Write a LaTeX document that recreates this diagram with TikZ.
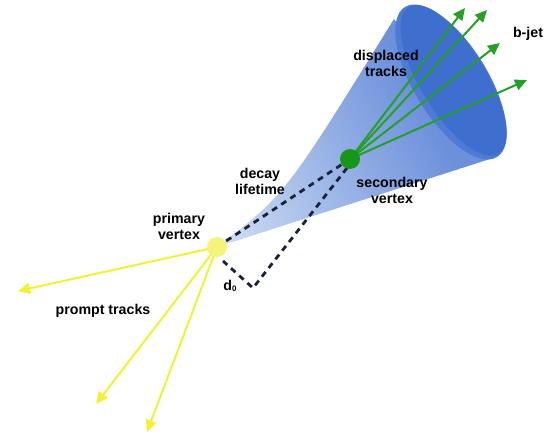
\documentclass[tikz,border=0pt]{standalone}
\usepackage{fontspec}
\setsansfont{Liberation Sans}
\usetikzlibrary{arrows.meta}
\usetikzlibrary{calc}

\definecolor{conelight}{RGB}{214,227,246}
\definecolor{conedark}{RGB}{108,144,219}
\definecolor{capblue}{RGB}{62,111,206}
\definecolor{caprim}{RGB}{78,124,212}
\definecolor{trackgreen}{RGB}{36,160,36}
\definecolor{vtxgreen}{RGB}{24,150,24}
\definecolor{trackyellow}{RGB}{242,242,50}
\definecolor{vtxyellow}{RGB}{244,244,122}
\definecolor{dashnavy}{RGB}{26,34,58}

\tikzset{
  lbl/.style={font=\sffamily\bfseries\fontsize{14.2}{16}\selectfont, align=center, text=black, inner sep=0pt},
  vtx/.style={circle, minimum size=20pt, inner sep=0pt},
  lifeline/.style={dashnavy, line width=2.8pt, dash pattern=on 6pt off 5pt},
  track/.style={line width=2pt, -{Triangle[length=12pt,width=11pt]}},
}

\begin{document}
\begin{tikzpicture}[x=1pt, y=-1pt]
    \useasboundingbox (0,0) rectangle (545,435);

    % draw cone and its cap
    \coordinate (apex) at (217,247);
    \coordinate (capc) at (451,82);
    \begin{scope}
      \clip (apex) .. controls (285,195) .. (394,19) -- (493,158) -- cycle;
      \begin{scope}[transform canvas={rotate around={28:(apex)}}]
        \shade[left color=conelight, right color=conedark]
          ($(apex)+(-10,-160)$) rectangle ($(apex)+(250,160)$);
        \fill[conedark] ($(apex)+(249,-160)$) rectangle ($(apex)+(340,160)$);
      \end{scope}
    \end{scope}
    \begin{scope}[rotate around={-58.5:(capc)}]
      \fill[caprim] (capc) ellipse [x radius=88pt, y radius=37pt];
      \fill[capblue] ($(capc)+(0,-3)$) ellipse [x radius=86pt, y radius=33pt];
    \end{scope}

    % vertex positions (dots are drawn on top later)
    \coordinate (pvc) at (apex);
    \coordinate (svc) at (350,159);
    \coordinate (corner) at (253,288);

    % draw dashed lines
    \draw[lifeline] (pvc) -- (svc);
    \draw[lifeline] ($(svc)+(-3,9)$) -- (corner) -- ($(pvc)+(6,14)$);

    % draw displaced tracks
    \foreach \x/\y [count=\i] in {465/8, 487/10, 500/43, 527/80}
      \draw[track, trackgreen] (svc) -- (\x,\y) coordinate (g\i);

    % draw prompt tracks
    \foreach \x/\y [count=\i] in {18/291, 96/404, 147/432}
      \draw[track, trackyellow] (pvc) -- (\x,\y) coordinate (y\i);

    % draw nodes
    \node[vtx, fill=vtxyellow] (pv) at (pvc) {};
    \node[vtx, fill=vtxgreen] (sv) at (svc) {};

    % draw labels
    \node[lbl] (disp) at (386,63) {displaced\\tracks};
    \node[lbl] (bjet) at (528,34) {b-jet};
    \node[lbl] (decay) at (260,181) {decay\\lifetime};
    \node[lbl] (svlbl) at (392,190) {secondary\\vertex};
    \node[lbl] (pvlbl) at (179,226) {primary\\vertex};
    \node[lbl] (d0) at (230,286) {d{\fontsize{8}{8}\selectfont\raisebox{-1pt}{0}}};
    \node[lbl] (prompt) at (103,311) {prompt tracks};
  \end{tikzpicture}
\end{document}
